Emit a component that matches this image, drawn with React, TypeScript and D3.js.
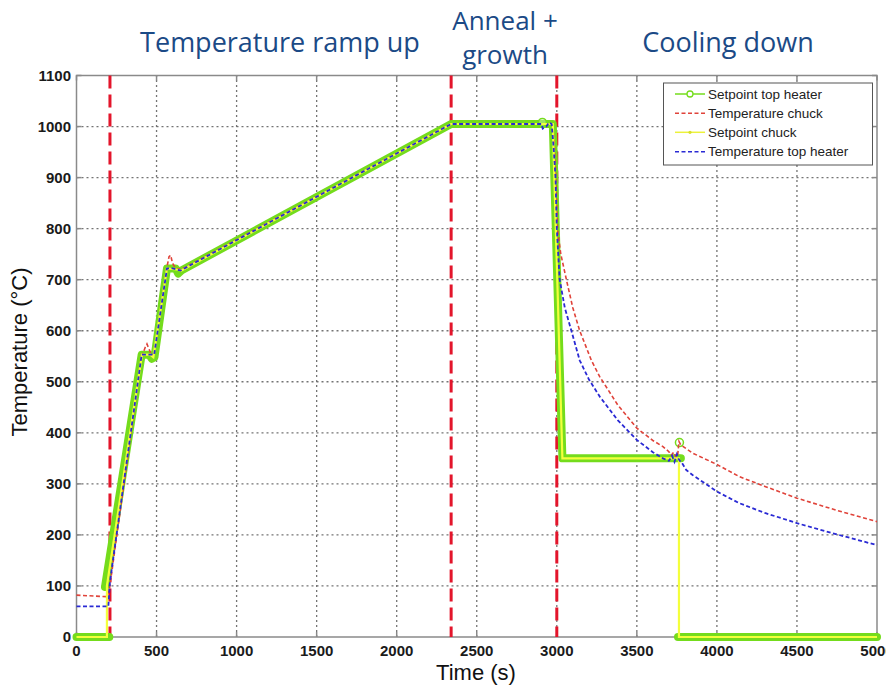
import React from "react";
import * as d3 from "d3";

// ---- data ---------------------------------------------------------------
// Setpoint top heater (null = gap in the trace)
const setpointTopHeaterT = [0, 205, 205, 178, 407, 455, 470, 487, 565, 620, 635, 655, 2340, 2975, 3035, 3775, 3775, 3757, 5000];
const setpointTopHeaterV = [0, 0, null, 98, 553, 553, 545, 548, 722, 722, 712, 718, 1005, 1005, 350, 350, null, 0, 0];
const setpointTopHeaterMarkT = [2910, 3766];
const setpointTopHeaterMarkV = [1008, 381];

// Setpoint chuck
const setpointChuckT = [0, 190, 190, 409, 460, 480, 565, 625, 655, 2340, 2975, 3035, 3763, 3763, 5000];
const setpointChuckV = [0, 0, 100, 553, 553, 548, 722, 720, 718, 1005, 1005, 350, 350, 0, 0];

// Temperature chuck
const tempChuckT = [0, 188, 205, 407, 418, 430, 440, 452, 465, 485, 565, 578, 588, 600, 620, 655, 2340, 2975, 2985, 2994, 3004, 3025, 3060, 3100, 3143, 3216, 3268, 3380, 3500, 3600, 3663, 3700, 3715, 3730, 3745, 3755, 3763, 3775, 3850, 4000, 4141, 4300, 4500, 4750, 5000];
const tempChuckV = [82, 79, 92, 553, 558, 568, 574, 565, 555, 555, 725, 745, 748, 732, 722, 720, 1005, 1005, 960, 900, 800, 750, 700, 645, 600, 542, 510, 455, 409, 385, 373, 363, 356, 362, 352, 356, 383, 376, 360, 338, 314, 295, 272, 248, 226];

// Temperature top heater
const tempTopT = [0, 199, 209, 407, 425, 485, 565, 600, 650, 2340, 2905, 2912, 2935, 2950, 2968, 2980, 2992, 3000, 3018, 3050, 3091, 3143, 3200, 3268, 3380, 3500, 3600, 3663, 3700, 3720, 3735, 3750, 3760, 3768, 3778, 3809, 3850, 3920, 4000, 4141, 4300, 4500, 4750, 5000];
const tempTopV = [60, 60, 108, 553, 553, 553, 722, 722, 718, 1005, 1005, 996, 1000, 1008, 1005, 960, 900, 800, 700, 645, 600, 542, 505, 471, 425, 386, 362, 350, 345, 355, 343, 358, 350, 345, 343, 327, 317, 302, 285, 262, 243, 223, 201, 180];

// Phase boundaries (s)
const phaseTimes = [209, 2340, 3000];
const phaseTitles = [
  { lines: ["Temperature ramp up"], x: 280 },
  { lines: ["Anneal +", "growth"], x: 505 },
  { lines: ["Cooling down"], x: 728 },
];

const xTicks = [0, 500, 1000, 1500, 2000, 2500, 3000, 3500, 4000, 4500, 5000];
const yTicks = [0, 100, 200, 300, 400, 500, 600, 700, 800, 900, 1000, 1100];

const legendLabels = ["Setpoint top heater", "Temperature chuck", "Setpoint chuck", "Temperature top heater"];

// ---- styling ---------------------------------------------------------------
const W = 886;
const H = 687;
const GREEN = "#74dc1c";
const YELLOW = "#f4ff3c";
const RED = "#e0433a";
const BLUE = "#2a2ad4";
const PHASE_RED = "#e3152b";
const TITLE_BLUE = "#1b4a86";
const labelFont = "'Liberation Sans', Arial, sans-serif";
const titleFont = "'Open Sans', 'Noto Sans', sans-serif";

const x = d3.scaleLinear().domain([0, 5000]).range([76.5, 877]);
const y = d3.scaleLinear().domain([0, 1100]).range([637, 75.5]);

type Pt = [number, number | null];
const zip = (t: number[], v: (number | null)[]): Pt[] => t.map((d, i) => [d, v[i]]);

const line = d3
  .line<Pt>()
  .defined((d) => d[1] !== null)
  .x((d) => x(d[0]))
  .y((d) => y(d[1] as number));

export default function App() {
  const [x0, x1] = x.range();
  const [y0, y1] = y.range();
  const greenPts = zip(setpointTopHeaterT, setpointTopHeaterV);
  const yellowPts = zip(setpointChuckT, setpointChuckV);
  const redPts = zip(tempChuckT, tempChuckV);
  const bluePts = zip(tempTopT, tempTopV);

  const lgX = 663.5;
  const lgY = 83;
  const rowYs = [94, 113.3, 132.3, 151.7];

  return (
    <svg
      width={W}
      height={H}
      viewBox={`0 0 ${W} ${H}`}
      style={{ position: "absolute", left: 0, top: 0, background: "#fff" }}
    >
      {/* phase titles */}
      {phaseTitles.map((p, i) =>
        p.lines.length === 1 ? (
          <text key={i} x={p.x} y={52} textAnchor="middle" fontFamily={titleFont} fontSize={27} fill={TITLE_BLUE}>
            {p.lines[0]}
          </text>
        ) : (
          <g key={i}>
            <text x={p.x} y={30} textAnchor="middle" fontFamily={titleFont} fontSize={26} fill={TITLE_BLUE}>
              {p.lines[0]}
            </text>
            <text x={p.x} y={64} textAnchor="middle" fontFamily={titleFont} fontSize={26} fill={TITLE_BLUE}>
              {p.lines[1]}
            </text>
          </g>
        )
      )}

      {/* grid */}
      <g stroke="#747474" strokeWidth={1.3} strokeDasharray="2,3">
        {xTicks.slice(1, -1).map((t) => (
          <line key={"gx" + t} x1={x(t)} x2={x(t)} y1={y0} y2={y1} />
        ))}
        {yTicks.slice(1, -1).map((t) => (
          <line key={"gy" + t} x1={x0} x2={x1} y1={y(t)} y2={y(t)} />
        ))}
      </g>

      {/* frame and ticks */}
      <g stroke="#8a8a8a" strokeWidth={1.5} fill="none">
        <rect x={x0} y={y1} width={x1 - x0} height={y0 - y1} />
        {xTicks.map((t) => (
          <g key={"tx" + t}>
            <line x1={x(t)} x2={x(t)} y1={y0} y2={y0 - 5} />
            <line x1={x(t)} x2={x(t)} y1={y1} y2={y1 + 5} />
          </g>
        ))}
        {yTicks.map((t) => (
          <g key={"ty" + t}>
            <line x1={x0} x2={x0 + 5} y1={y(t)} y2={y(t)} />
            <line x1={x1} x2={x1 - 5} y1={y(t)} y2={y(t)} />
          </g>
        ))}
      </g>

      {/* phase boundaries */}
      {phaseTimes.map((t) => (
        <line
          key={"ph" + t}
          x1={x(t)}
          x2={x(t)}
          y1={y1}
          y2={y0}
          stroke={PHASE_RED}
          strokeWidth={3}
          strokeDasharray="13,6"
        />
      ))}

      {/* series */}
      <path d={line(greenPts) || ""} fill="none" stroke={GREEN} strokeWidth={8} strokeLinejoin="round" strokeLinecap="round" />
      {setpointTopHeaterMarkT.map((t, i) => (
        <circle key={"gm" + i} cx={x(t)} cy={y(setpointTopHeaterMarkV[i])} r={4} fill="#fff" fillOpacity={0.3} stroke={GREEN} strokeWidth={1.5} />
      ))}
      <path d={line(redPts) || ""} fill="none" stroke={RED} strokeWidth={1.6} strokeDasharray="4,2.5" />
      <path d={line(yellowPts) || ""} fill="none" stroke={YELLOW} strokeWidth={2.2} />
      <path d={line(bluePts) || ""} fill="none" stroke={BLUE} strokeWidth={1.8} strokeDasharray="4,2.5" />

      {/* tick labels */}
      <g fontFamily={labelFont} fontWeight="bold" fontSize={15} fill="#1a1a1a">
        {xTicks.map((t) => (
          <text key={"lx" + t} x={x(t)} y={656} textAnchor="middle">
            {t}
          </text>
        ))}
        {yTicks.map((t) => (
          <text key={"ly" + t} x={71} y={y(t)} dy="0.36em" textAnchor="end">
            {t}
          </text>
        ))}
      </g>

      {/* axis titles */}
      <text x={476} y={680} textAnchor="middle" fontFamily={labelFont} fontSize={22} fill="#111">
        Time (s)
      </text>
      <text
        transform="translate(27,352) rotate(-90)"
        textAnchor="middle"
        fontFamily={labelFont}
        fontSize={22}
        fill="#111"
      >
        Temperature (°C)
      </text>

      {/* legend */}
      <g>
        <rect x={lgX} y={lgY} width={209} height={82} fill="#fff" stroke="#555" strokeWidth={1} />
        {legendLabels.map((lab, i) => {
          const ry = rowYs[i];
          const lx1 = 675;
          const lx2 = 705;
          let sample: React.ReactNode = null;
          if (i === 0)
            sample = (
              <g>
                <line x1={lx1} x2={lx2} y1={ry} y2={ry} stroke={GREEN} strokeWidth={1.5} />
                <circle cx={(lx1 + lx2) / 2} cy={ry} r={3} fill="#fff" stroke={GREEN} strokeWidth={1.3} />
              </g>
            );
          if (i === 1)
            sample = <line x1={lx1} x2={lx2} y1={ry} y2={ry} stroke={RED} strokeWidth={1.5} strokeDasharray="4,2.5" />;
          if (i === 2)
            sample = (
              <g>
                <line x1={lx1} x2={lx2} y1={ry} y2={ry} stroke="#ecf23a" strokeWidth={1.5} />
                <circle cx={(lx1 + lx2) / 2} cy={ry} r={1.6} fill="#d8e02a" />
              </g>
            );
          if (i === 3)
            sample = <line x1={lx1} x2={lx2} y1={ry} y2={ry} stroke={BLUE} strokeWidth={1.5} strokeDasharray="4,2.5" />;
          return (
            <g key={lab}>
              {sample}
              <text x={708} y={ry} dy="0.35em" fontFamily={labelFont} fontSize={13.5} fill="#222">
                {lab}
              </text>
            </g>
          );
        })}
      </g>
    </svg>
  );
}
